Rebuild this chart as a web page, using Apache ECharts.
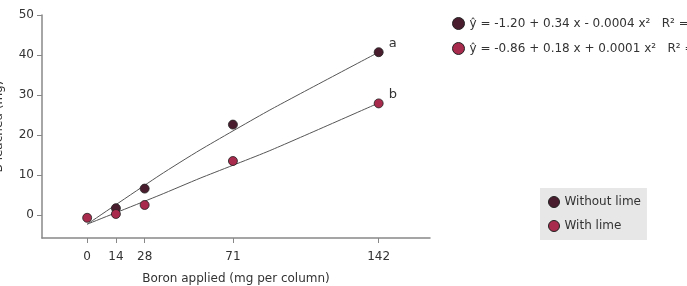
<!DOCTYPE html>
<html><head><meta charset="utf-8">
<script src="https://cdn.jsdelivr.net/npm/echarts@6/dist/echarts.min.js"></script>
<style>html,body{margin:0;padding:0;background:#fff}#c{width:687px;height:286px}</style>
</head><body><div id="c"></div>
<script>
const xTicks = [0, 14, 28, 71, 142];
const yTicks = [0, 10, 20, 30, 40, 50];
const boronX = [14, 28, 71, 142];
const withoutLime = [1.7, 6.6, 22.6, 40.7];
const withLimeX = [0, 14, 28, 71, 142];
const withLime = [-0.7, 0.25, 2.5, 13.5, 27.9];
const fitX = [0, 35.5, 55, 89, 142];
const fitA = [-2.3, 10, 16.25, 26.25, 40.7];
const fitB = [-2.3, 5.0, 9.2, 16.1, 28.0];
const eqA = 'ŷ = -1.20 + 0.34 x - 0.0004 x²   R² = 0.99';
const eqB = 'ŷ = -0.86 + 0.18 x + 0.0001 x²   R² = 0.99';
const darkC = '#4a1d2e', pinkC = '#a82a4c';
const font = 'DejaVu Sans';
const pair = (xs, ys) => xs.map((x, i) => [x, ys[i]]);

const chart = echarts.init(document.getElementById('c'));
chart.setOption({
  animation: false,
  textStyle: {fontFamily: font},
  grid: {left: 42, right: 257, top: 15, bottom: 48, outerBoundsMode: 'none', containLabel: false},
  xAxis: {
    type: 'value', min: -22, max: 167,
    name: 'Boron applied (mg per column)', nameLocation: 'middle', nameGap: 35,
    nameTextStyle: {fontSize: 12, color: '#333', fontFamily: font},
    axisLine: {onZero: false, lineStyle: {color: '#888', width: 1.5}},
    axisTick: {show: true, length: 5, lineStyle: {color: '#888'}, customValues: xTicks},
    axisLabel: {fontSize: 12, color: '#333', margin: 13, customValues: xTicks},
    splitLine: {show: false}
  },
  yAxis: {
    type: 'value', min: -5.75, max: 50,
    name: 'B leached (mg)', nameLocation: 'middle', nameGap: 37, nameRotate: 90,
    nameTextStyle: {fontSize: 12, color: '#333', fontFamily: font},
    axisLine: {show: true, onZero: false, lineStyle: {color: '#888', width: 1.5}},
    axisTick: {show: true, length: 5, lineStyle: {color: '#888'}, customValues: yTicks},
    axisLabel: {fontSize: 12, color: '#333', margin: 8, customValues: yTicks},
    splitLine: {show: false}
  },
  legend: [{
    orient: 'vertical', left: 447, top: 12, itemGap: 12,
    icon: 'circle', itemWidth: 12, itemHeight: 12,
    textStyle: {fontSize: 12, color: '#333', fontFamily: font},
    data: [
      {name: eqA, itemStyle: {color: darkC, borderColor: '#222', borderWidth: 1}},
      {name: eqB, itemStyle: {color: pinkC, borderColor: '#222', borderWidth: 1}}
    ]
  }, {
    orient: 'vertical', left: 540, top: 188, itemGap: 12,
    backgroundColor: '#e7e7e7', padding: [8, 6, 8, 8],
    icon: 'circle', itemWidth: 11, itemHeight: 11,
    textStyle: {fontSize: 12, color: '#333', fontFamily: font},
    data: [
      {name: 'Without lime', itemStyle: {color: darkC, borderColor: '#222', borderWidth: 1}},
      {name: 'With lime', itemStyle: {color: pinkC, borderColor: '#222', borderWidth: 1}}
    ]
  }],
  series: [
    {name: eqA, type: 'line', data: pair(fitX, fitA), smooth: 0.2, symbol: 'none',
     lineStyle: {color: '#555', width: 1}, itemStyle: {color: darkC}, z: 1},
    {name: eqB, type: 'line', data: pair(fitX, fitB), smooth: 0.2, symbol: 'none',
     lineStyle: {color: '#555', width: 1}, itemStyle: {color: pinkC}, z: 1},
    {name: 'Without lime', type: 'scatter', data: pair(boronX, withoutLime), symbolSize: 9,
     itemStyle: {color: darkC, borderColor: '#222', borderWidth: 0.8, opacity: 1}, z: 3,
     label: {show: true, position: [15, -10], fontSize: 13, color: '#333',
       formatter: p => p.dataIndex === boronX.length - 1 ? 'a' : ''}},
    {name: 'With lime', type: 'scatter', data: pair(withLimeX, withLime), symbolSize: 9,
     itemStyle: {color: pinkC, borderColor: '#222', borderWidth: 0.8, opacity: 1}, z: 3,
     label: {show: true, position: [15, -10], fontSize: 13, color: '#333',
       formatter: p => p.dataIndex === withLimeX.length - 1 ? 'b' : ''}}
  ]
});
</script></body></html>
